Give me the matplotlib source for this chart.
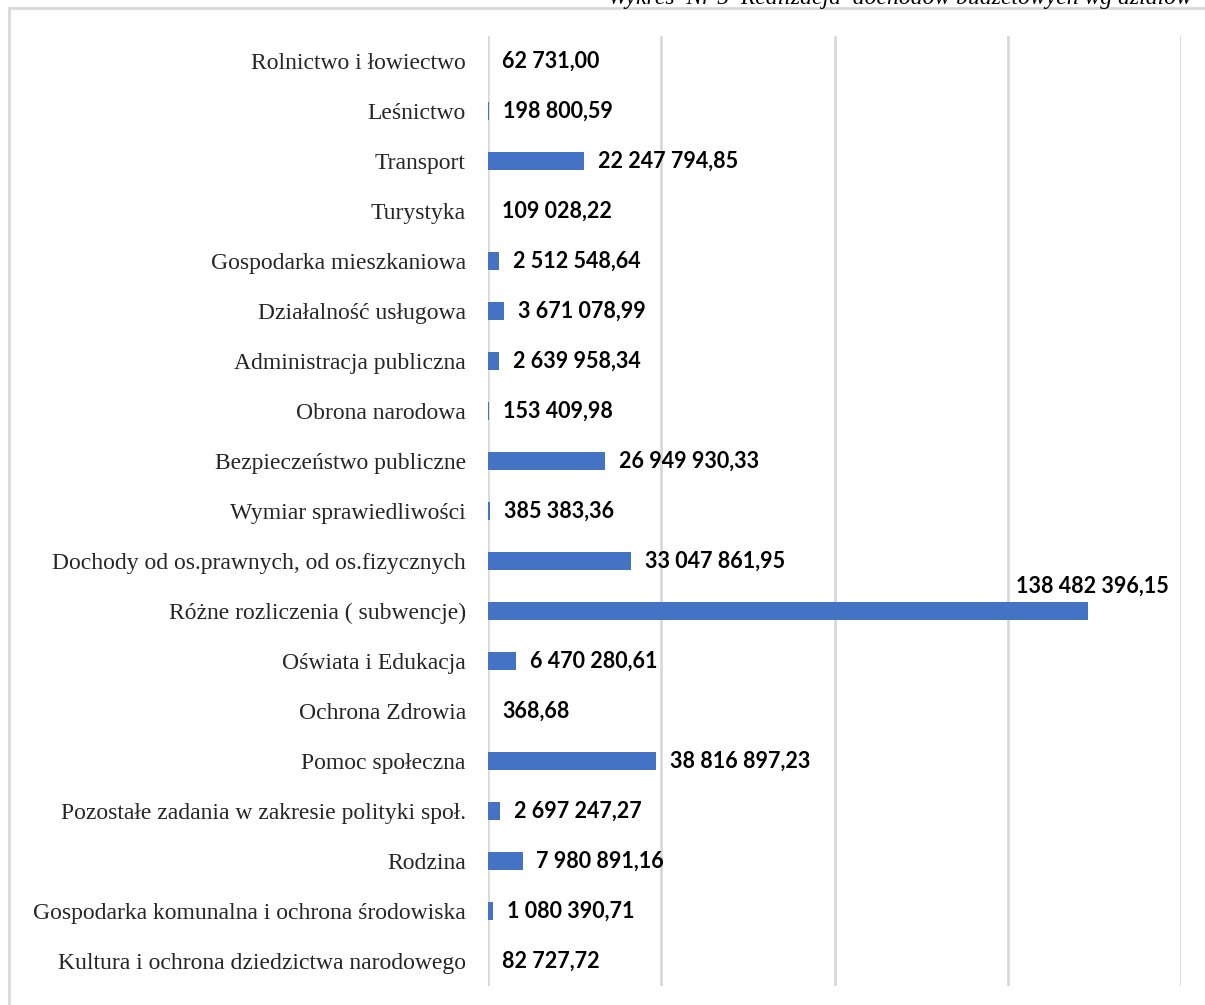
# Realizacja dochodów budżetowych wg działów - horizontal bars
import matplotlib.pyplot as plt
import numpy as np

categories = [
    "Rolnictwo i łowiectwo",
    "Leśnictwo",
    "Transport",
    "Turystyka",
    "Gospodarka mieszkaniowa",
    "Działalność usługowa",
    "Administracja publiczna",
    "Obrona narodowa",
    "Bezpieczeństwo publiczne",
    "Wymiar sprawiedliwości",
    "Dochody od os.prawnych, od os.fizycznych",
    "Różne rozliczenia ( subwencje)",
    "Oświata i Edukacja",
    "Ochrona Zdrowia",
    "Pomoc społeczna",
    "Pozostałe zadania w zakresie polityki społ.",
    "Rodzina",
    "Gospodarka komunalna i ochrona środowiska",
    "Kultura i ochrona dziedzictwa narodowego",
]
values = [
    62731.00,
    198800.59,
    22247794.85,
    109028.22,
    2512548.64,
    3671078.99,
    2639958.34,
    153409.98,
    26949930.33,
    385383.36,
    33047861.95,
    138482396.15,
    6470280.61,
    368.68,
    38816897.23,
    2697247.27,
    7980891.16,
    1080390.71,
    82727.72,
]
title = "Wykres  Nr 5  Realizacja  dochodów budżetowych wg działów"


def fmt_pl(v):
    # 1234567.89 -> "1 234 567,89"
    s = f"{v:,.2f}"
    return s.replace(",", " ").replace(".", ",")


# === Style ===
plt.rcParams.update({
    'font.family': 'Liberation Serif',
    'axes.linewidth': 0,
})

fig = plt.figure(figsize=(12.05, 10.05), dpi=100)
W, H = 1205, 1005
ax = fig.add_axes([488 / W, 1 - 986 / H, (1181 - 488) / W, (986 - 36) / H])

y = np.arange(len(categories))
ax.barh(y, values, height=0.36, color='#4472C4', zorder=3)

ax.set_xlim(0, 160e6)
ax.set_ylim(len(categories) - 0.5, -0.5)
ax.set_xticks(np.arange(0, 160e6 + 1, 40e6))
ax.set_xticklabels([])
ax.tick_params(axis='x', length=0)
ax.grid(axis='x', color='#D9D9D9', linewidth=2, zorder=0)
ax.set_axisbelow(True)

ax.set_yticks(y)
ax.set_yticklabels(categories, fontsize=17, color='#262626')
ax.tick_params(axis='y', length=0, pad=16)

for s in ax.spines.values():
    s.set_visible(False)

# value labels
vmax = max(values)
for i, v in enumerate(values):
    if v == vmax:
        ax.annotate(fmt_pl(v), (v, i), xytext=(3, 18), textcoords='offset points',
                    ha='center', va='center', fontsize=15.5, fontweight='bold',
                    family='Lato', color='black')
    else:
        ax.annotate(fmt_pl(v), (v, i), xytext=(10, 0), textcoords='offset points',
                    ha='left', va='center', fontsize=15.5, fontweight='bold',
                    family='Lato', color='black')

# frame lines (left and top) of the original chart box
fig.add_artist(plt.Line2D([9 / W, 9 / W], [0, 1 - 8 / H], transform=fig.transFigure,
                          color='#D9D9D9', linewidth=2))
fig.add_artist(plt.Line2D([9 / W, 1], [1 - 8 / H, 1 - 8 / H], transform=fig.transFigure,
                          color='#D9D9D9', linewidth=2))

# cut-off caption at the top
fig.text(1192 / W, 1 - 4 / H, title, ha='right', va='baseline',
         fontsize=17, style='italic', color='black')

fig.savefig('out.png', dpi=100)
